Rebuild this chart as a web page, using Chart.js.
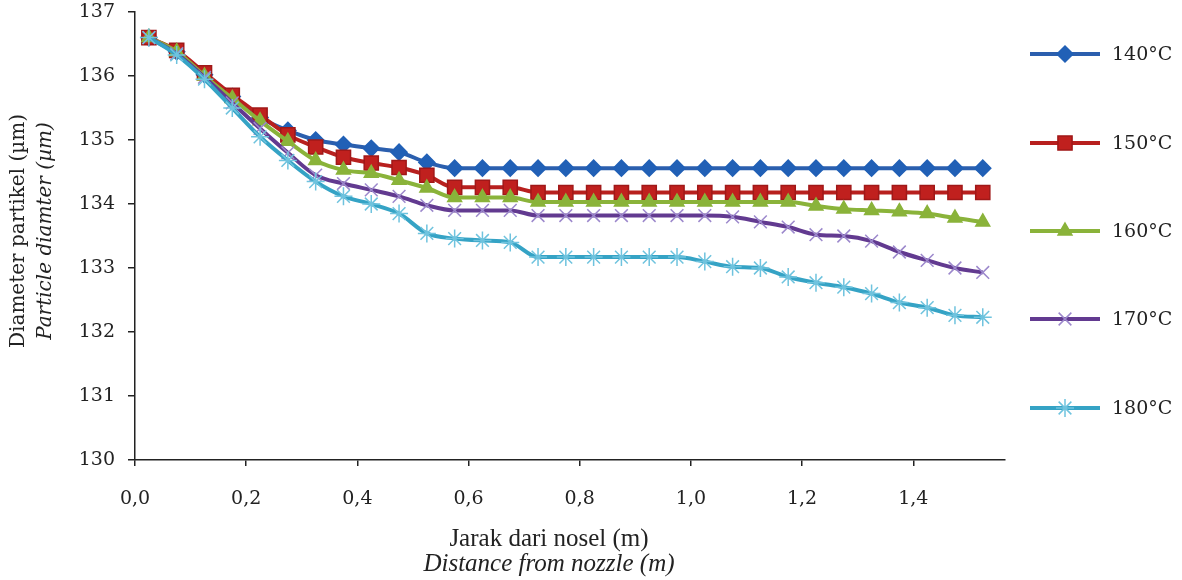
<!DOCTYPE html>
<html>
<head>
<meta charset="utf-8">
<script src="https://cdn.jsdelivr.net/npm/chart.js@4.4.1/dist/chart.umd.min.js"></script>
<style>
  body { margin: 0; background: #fff; }
  #wrap { width: 1182px; height: 580px; }
</style>
</head>
<body>
<div id="wrap"><canvas id="out" width="1182" height="580"></canvas></div>
<script>
// distance from nozzle (m)
const distance = [0.025, 0.075, 0.125, 0.175, 0.225, 0.275, 0.325, 0.375, 0.425, 0.475,
  0.525, 0.575, 0.625, 0.675, 0.725, 0.775, 0.825, 0.875, 0.925, 0.975,
  1.025, 1.075, 1.125, 1.175, 1.225, 1.275, 1.325, 1.375, 1.425, 1.475, 1.525];

// particle diameter (um) per drying temperature
const d140 = [136.6, 136.38, 136.02, 135.68, 135.35, 135.15, 135.0, 134.93, 134.87, 134.81,
  134.65, 134.56, 134.56, 134.56, 134.56, 134.56, 134.56, 134.56, 134.56, 134.56,
  134.56, 134.56, 134.56, 134.56, 134.56, 134.56, 134.56, 134.56, 134.56, 134.56, 134.56];
const d150 = [136.6, 136.4, 136.05, 135.7, 135.39, 135.08, 134.89, 134.73, 134.64, 134.57,
  134.45, 134.26, 134.26, 134.26, 134.18, 134.18, 134.18, 134.18, 134.18, 134.18,
  134.18, 134.18, 134.18, 134.18, 134.18, 134.18, 134.18, 134.18, 134.18, 134.18, 134.18];
const d160 = [136.6, 136.38, 136.0, 135.65, 135.3, 134.98, 134.68, 134.53, 134.48, 134.37,
  134.25, 134.1, 134.1, 134.1, 134.03, 134.03, 134.03, 134.03, 134.03, 134.03,
  134.03, 134.03, 134.03, 134.03, 133.97, 133.92, 133.9, 133.88, 133.85, 133.78, 133.72];
const d170 = [136.6, 136.35, 135.98, 135.58, 135.18, 134.8, 134.45, 134.32, 134.22, 134.12,
  133.98, 133.9, 133.9, 133.9, 133.82, 133.82, 133.82, 133.82, 133.82, 133.82,
  133.82, 133.8, 133.72, 133.64, 133.52, 133.5, 133.42, 133.25, 133.12, 133.0, 132.93];
const d180 = [136.6, 136.33, 135.95, 135.5, 135.05, 134.68, 134.35, 134.12, 134.0, 133.85,
  133.54, 133.46, 133.43, 133.4, 133.17, 133.17, 133.17, 133.17, 133.17, 133.17,
  133.1, 133.02, 133.0, 132.86, 132.77, 132.7, 132.6, 132.46, 132.38, 132.26, 132.23];

const seriesNames = ["140°C", "150°C", "160°C", "170°C", "180°C"];
const xTicks = [0, 0.2, 0.4, 0.6, 0.8, 1.0, 1.2, 1.4];
const yTicks = [130, 131, 132, 133, 134, 135, 136, 137];

const serif = "'DejaVu Serif', serif";
const ink = "#222";

const styles = [
  { line: "#2B5FAE", fill: "#2160B6", edge: "#2160B6", shape: "rectRot", r: 8 },
  { line: "#B8201E", fill: "#C0201E", edge: "#A01818", shape: "rect", r: 10 },
  { line: "#8AB33A", fill: "#8AB33A", edge: "#8AB33A", shape: "triangle", r: 8 },
  { line: "#623A90", fill: "#9C88CC", edge: "#9C88CC", shape: "crossRot", r: 9 },
  { line: "#35A3C5", fill: "#6FC3DE", edge: "#6FC3DE", shape: "star", r: 9 }
];

const allSeries = [d140, d150, d160, d170, d180];

const datasets = allSeries.map((vals, i) => ({
  label: seriesNames[i],
  data: vals.map((v, k) => ({ x: distance[k], y: v })),
  borderColor: styles[i].line,
  borderWidth: 4,
  backgroundColor: styles[i].fill,
  pointStyle: styles[i].shape,
  pointRadius: styles[i].r,
  pointBackgroundColor: styles[i].fill,
  pointBorderColor: styles[i].edge,
  pointBorderWidth: 1.5,
  cubicInterpolationMode: "monotone",
  order: 4 - i
}));

const textPlugin = {
  id: "texts",
  afterDraw(chart) {
    const ctx = chart.ctx;
    ctx.save();
    ctx.fillStyle = ink;
    ctx.textAlign = "center";
    ctx.textBaseline = "middle";

    // y axis title, two lines
    ctx.save();
    ctx.translate(19, 231);
    ctx.rotate(-Math.PI / 2);
    ctx.font = "20px " + serif;
    ctx.fillText("Diameter partikel (µm)", 0, 0);
    ctx.font = "italic 20px " + serif;
    ctx.fillText("Particle diamter (µm)", 0, 27);
    ctx.restore();

    // x axis title, two lines
    ctx.font = "25px 'Liberation Serif', serif";
    ctx.fillText("Jarak dari nosel (m)", 549, 539);
    ctx.font = "italic 25px 'Liberation Serif', serif";
    ctx.fillText("Distance from nozzle (m)", 549, 564);

    // legend
    const legendY = [54, 143, 231, 319, 408];
    ctx.textAlign = "left";
    ctx.font = "19px " + serif;
    styles.forEach((s, i) => {
      const y = legendY[i];
      ctx.strokeStyle = s.line;
      ctx.lineWidth = 4;
      ctx.beginPath();
      ctx.moveTo(1030, y);
      ctx.lineTo(1100, y);
      ctx.stroke();
      ctx.fillStyle = s.fill;
      ctx.strokeStyle = s.edge;
      ctx.lineWidth = 1.5;
      Chart.helpers.drawPoint(ctx, { pointStyle: s.shape, radius: s.r, rotation: 0, borderWidth: 1.5 }, 1065, y);
      ctx.fillStyle = ink;
      ctx.fillText(seriesNames[i], 1112, y + 1);
    });
    ctx.restore();
  }
};

const canvasCtx = document.getElementById("out").getContext("2d");
new Chart(canvasCtx, {
  type: "line",
  data: { datasets: datasets },
  options: {
    responsive: false,
    animation: false,
    layout: { padding: { left: 0, top: 12, right: 177, bottom: 0 } },
    plugins: { legend: { display: false }, tooltip: { enabled: false } },
    scales: {
      x: {
        type: "linear",
        min: 0,
        max: 1.565,
        afterFit(scale) {
          scale.height = 120;
          scale.paddingLeft = 0;
          scale.paddingRight = 0;
        },
        afterBuildTicks(scale) { scale.ticks = xTicks.map(v => ({ value: v })); },
        border: { color: ink, width: 1.5 },
        grid: { drawOnChartArea: false, color: ink, lineWidth: 1.5, tickLength: 6 },
        ticks: {
          color: ink,
          padding: 22,
          maxRotation: 0,
          font: { family: serif, size: 19 },
          callback: v => v.toFixed(1).replace(".", ",")
        }
      },
      y: {
        min: 130,
        max: 137,
        afterFit(scale) {
          scale.width = 135;
          scale.paddingTop = 0;
          scale.paddingBottom = 0;
        },
        afterBuildTicks(scale) { scale.ticks = yTicks.map(v => ({ value: v })); },
        border: { color: ink, width: 1.5 },
        grid: { drawOnChartArea: false, color: ink, lineWidth: 1.5, tickLength: 7 },
        ticks: {
          color: ink,
          padding: 13,
          font: { family: serif, size: 19 },
          callback: v => String(v)
        }
      }
    }
  },
  plugins: [textPlugin]
});
</script>
</body>
</html>
